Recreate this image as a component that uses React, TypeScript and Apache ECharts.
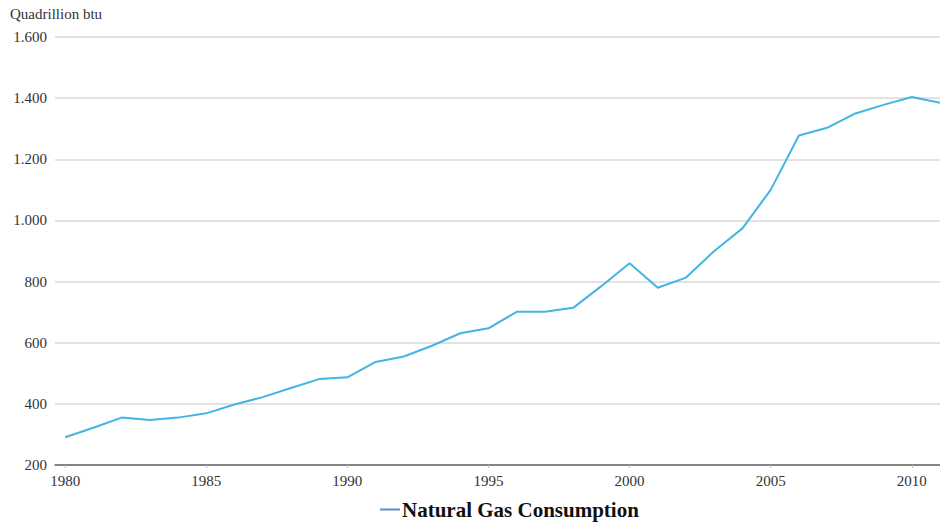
import React, { useEffect, useRef } from "react";
import * as echarts from "echarts";

const years = [1980, 1981, 1982, 1983, 1984, 1985, 1986, 1987, 1988, 1989, 1990, 1991, 1992, 1993, 1994, 1995, 1996, 1997, 1998, 1999, 2000, 2001, 2002, 2003, 2004, 2005, 2006, 2007, 2008, 2009, 2010, 2011];
const consumption = [291, 322, 355, 347, 355, 369, 398, 422, 452, 481, 487, 537, 555, 590, 631, 647, 701, 701, 714, 785, 860, 780, 813, 900, 974, 1100, 1278, 1303, 1350, 1378, 1404, 1385];
const xTickYears = [1980, 1985, 1990, 1995, 2000, 2005, 2010];
const seriesName = "Natural Gas Consumption";
const unitLabel = "Quadrillion btu";

const FONT = "'Liberation Serif', 'Times New Roman', serif";

function fmt(v: number): string {
  return String(Math.round(v)).replace(/\B(?=(\d{3})+(?!\d))/g, ".");
}

export default function App() {
  const ref = useRef<HTMLDivElement>(null);
  useEffect(() => {
    if (!ref.current) return;
    const chart = echarts.init(ref.current, undefined, { renderer: "svg" });
    chart.setOption({
      animation: false,
      backgroundColor: "#ffffff",
      textStyle: { fontFamily: FONT },
      grid: { left: 55, right: 0, top: 37, bottom: 59, containLabel: false },
      graphic: [
        {
          type: "text",
          left: 10,
          top: 6,
          style: { text: unitLabel, font: `15px ${FONT}`, fill: "#333333" },
        },
      ],
      legend: {
        left: 380,
        top: 499,
        icon: "rect",
        itemWidth: 20,
        itemHeight: 2,
        itemGap: 10,
        padding: 0,
        textStyle: { fontFamily: FONT, fontSize: 21, fontWeight: "bold", color: "#111111", padding: [0, 0, 0, -3] },
        data: [{ name: seriesName, itemStyle: { color: "#5b8fc7" } }],
      },
      xAxis: {
        type: "value",
        min: 1979.64,
        max: 2011,
        axisLine: { show: true, lineStyle: { color: "#666666", width: 1.5 } },
        axisTick: { show: true, length: 3, lineStyle: { color: "#bbbbbb" }, customValues: xTickYears },
        axisLabel: {
          customValues: xTickYears,
          fontFamily: FONT,
          fontSize: 15,
          color: "#333333",
          margin: 8,
          formatter: (v: number) => String(Math.round(v)),
        },
        splitLine: { show: false },
      },
      yAxis: {
        type: "value",
        min: 200,
        max: 1600,
        interval: 200,
        axisLine: { show: false },
        axisTick: { show: false },
        axisLabel: { fontFamily: FONT, fontSize: 15, color: "#333333", margin: 8, formatter: (v: number) => fmt(v) },
        splitLine: { show: true, lineStyle: { color: "#d9d9d9", width: 1.5 } },
      },
      series: [
        {
          name: seriesName,
          type: "line",
          data: years.map((y, i) => [y, consumption[i]]),
          showSymbol: false,
          symbol: "none",
          lineStyle: { color: "#44b4e2", width: 2 },
          itemStyle: { color: "#44b4e2" },
        },
      ],
    });
    return () => chart.dispose();
  }, []);
  return (
    <div
      ref={ref}
      style={{ position: "absolute", left: 0, top: 0, width: 940, height: 524, background: "#fff" }}
    />
  );
}
